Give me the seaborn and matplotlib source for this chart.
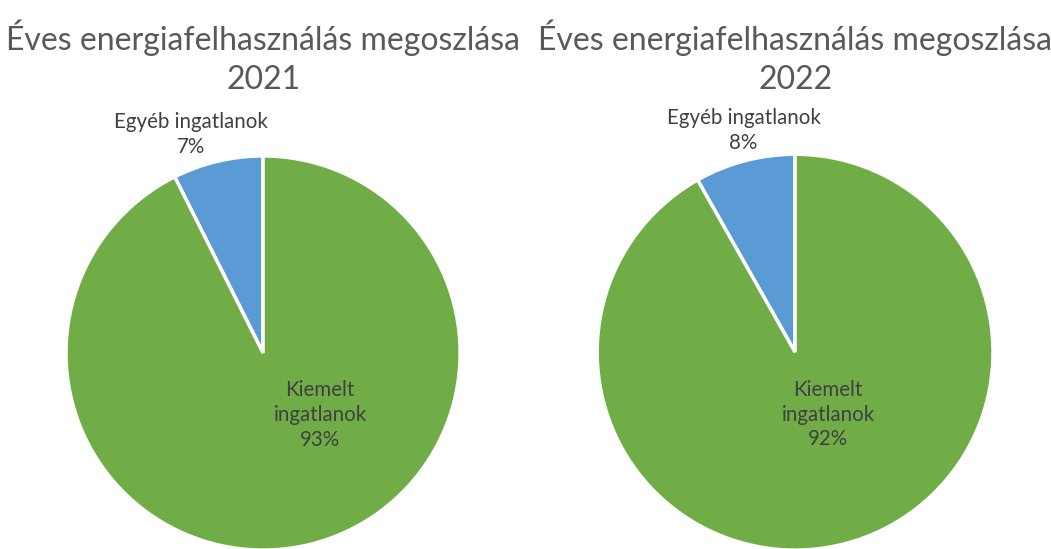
import matplotlib.pyplot as plt
import seaborn as sns

# Data
years = ["2021", "2022"]
categories = ["Egyéb ingatlanok", "Kiemelt ingatlanok"]
shares_2021 = [7.4, 92.6]
shares_2022 = [8.2, 91.8]
title_text = "Éves energiafelhasználás megoszlása"

sns.set_theme(style="white")
plt.rcParams["font.family"] = ["Lato", "DejaVu Sans"]

colors = ["#5B9BD5", "#70AD47"]
TITLE_COLOR = "#595959"
LABEL_COLOR = "#404040"

fig = plt.figure(figsize=(10.51, 5.49), dpi=100)

# axes placed so the pies run off the bottom edge like in the screenshot
ax_positions = [
    [0.0628, -0.002, 0.375, 0.718],
    [0.568, -0.002, 0.377, 0.721],
]
# label anchor points (in pie radius units) for the "Egyéb" and "Kiemelt" labels
small_label_pos = [(-0.365, 1.11), (-0.26, 1.12)]
big_label_pos = [(0.29, -0.315), (0.167, -0.315)]

for i, (year, shares) in enumerate(zip(years, [shares_2021, shares_2022])):
    ax = fig.add_axes(ax_positions[i])
    ax.pie(shares, colors=colors, startangle=90, counterclock=True,
           wedgeprops=dict(edgecolor="white", linewidth=2.5), radius=1.0)
    ax.set_xlim(-1, 1)
    ax.set_ylim(-1, 1)
    ax.set_aspect("equal")
    ax.axis("off")

    sx, sy = small_label_pos[i]
    ax.text(sx, sy, f"{categories[0]}\n{round(shares[0])}%", ha="center", va="center",
            fontsize=14.8, color=LABEL_COLOR, linespacing=1.32, clip_on=False)
    bx, by = big_label_pos[i]
    ax.text(bx, by, f"Kiemelt\ningatlanok\n{round(shares[1])}%", ha="center", va="center",
            fontsize=14.8, color=LABEL_COLOR, linespacing=1.3)

    cx = ax_positions[i][0] + ax_positions[i][2] / 2
    fig.text(cx, 0.895, f"{title_text}\n{year}", ha="center", va="center",
             fontsize=23, color=TITLE_COLOR, linespacing=1.37)

fig.savefig("out.png", dpi=100, facecolor="white")
